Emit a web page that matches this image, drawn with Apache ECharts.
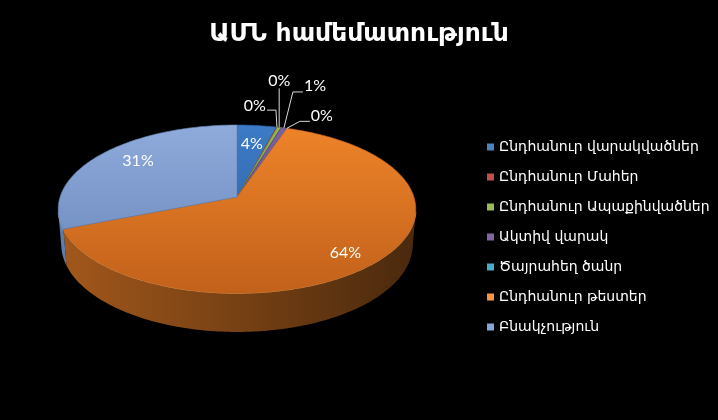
<!DOCTYPE html>
<html><head><meta charset="utf-8">
<script src="https://cdn.jsdelivr.net/npm/echarts@6/dist/echarts.min.js"></script>
<style>html,body{margin:0;padding:0;background:#000}#c{width:718px;height:420px}</style>
</head><body><div id="c"></div>
<script>
// ---- data ----
const titleText = 'ԱՄՆ համեմատություն';
const categories = ['Ընդհանուր վարակվածներ','Ընդհանուր Մահեր','Ընդհանուր Ապաքինվածներ','Ակտիվ վարակ','Ծայրահեղ ծանր','Ընդհանուր թեստեր','Բնակչություն'];
const shares = [4.1, 0.07, 0.4, 0.6, 0.02, 63.8, 31.01];

// ---- styles ----
const palette = ['#4f81bd','#c0504d','#9bbb59','#8064a2','#4bacc6','#f79646','#8aa6d8'];
const topShade = [['#3d7bc6','#2a5d9e'],['#c44e4a','#9b3531'],['#93b84f','#6f9236'],['#7d5fa6','#5c4283'],['#45a9c6','#2f86a0'],['#ee8429','#c2611b'],['#8fabdc','#6784b7']];
const sideShade = [['#2a5a94','#1a3a62'],['#8e3431','#5a1f1d'],['#6f9236','#4a6224'],['#5c4283','#3b2a55'],['#2f86a0','#1e5768'],['#a3581b','#4a290d'],['#5f7cae','#4a6290']];
const edgeGlow = ['rgba(120,170,230,0.5)','rgba(230,120,120,0.5)','rgba(190,220,130,0.5)','rgba(170,140,210,0.5)','rgba(120,210,230,0.5)','rgba(245,165,90,0.75)','rgba(170,195,235,0.6)'];

// ---- 3D view ----
const V = {cx:237, cy:197, f:1097, D:6.2, sp:0.465, cp:0.8853, h:0.228};
const vis0 = Math.acos(-1/(V.D*V.cp)), vis1 = 2*Math.PI - vis0;
function proj(t, r, Y){
  const X = r*Math.sin(t), Z = r*Math.cos(t);
  const yc = Y*V.cp + Z*V.sp, zc = V.D + Z*V.cp - Y*V.sp;
  return [V.cx + V.f*X/zc, V.cy - V.f*yc/zc];
}
function arc(a0, a1, r, Y){
  const n = Math.max(2, Math.ceil((a1-a0)/(Math.PI/180)));
  const pts = [];
  for (let i=0;i<=n;i++) pts.push(proj(a0+(a1-a0)*i/n, r, Y));
  return pts;
}
function angles(params, api){
  const idx = params.dataIndexInside, n = params.dataInsideLength;
  let total = 0, before = 0;
  for (let i=0;i<n;i++){ const v = api.value(0,i); total += v; if (i<idx) before += v; }
  const v = api.value(0, idx);
  return {a0: before/total*2*Math.PI, a1: (before+v)/total*2*Math.PI, frac: v/total, idx};
}
function renderSide(params, api){
  const g = angles(params, api);
  const s = Math.max(g.a0, vis0), e = Math.min(g.a1, vis1);
  if (e <= s) return {type:'group', children:[]};
  const top = arc(s, e, 1, 0), bot = arc(s, e, 1, -V.h).reverse();
  return {type:'group', children:[
    {type:'polygon', shape:{points: top.concat(bot)}, style:{fill:{type:'linear', x:58, y:0, x2:416, y2:0, global:true,
      colorStops:[{offset:0,color:sideShade[g.idx][0]},{offset:1,color:sideShade[g.idx][1]}]}}},
    {type:'polyline', shape:{points: top}, style:{stroke: edgeGlow[g.idx], lineWidth:1.5, fill:null}}
  ]};
}
function renderTop(params, api){
  const g = angles(params, api);
  const pts = [[V.cx, V.cy]].concat(arc(g.a0, g.a1, 1, 0));
  return {type:'polygon', shape:{points: pts}, style:{
    fill:{type:'linear', x:0, y:125, x2:0, y2:293, global:true,
      colorStops:[{offset:0,color:topShade[g.idx][0]},{offset:1,color:topShade[g.idx][1]}]},
    stroke: topShade[g.idx][1], lineWidth: 0.6}};
}
// label layout (positions only)
const insideLayout = {0:{r:0.72, dy:0}, 5:{r:0.78, dy:8}, 6:{r:0.715, dy:-5}};
const outsideLayout = {
  1:{dx:-1, dy:-17, hx:-9, align:'right', ty:-4},
  2:{dx:0, dy:-39, hx:0, align:'center', ty:-8},
  3:{dx:9, dy:-36, hx:10, align:'left', ty:-6},
  4:{dx:13, dy:-7, hx:10, align:'left', ty:-5}
};
const labelFont = {fontSize:16, fontFamily:'Lato, "Open Sans", sans-serif'};
function renderLabel(params, api){
  const g = angles(params, api);
  const txt = Math.round(g.frac*100) + '%';
  const mid = (g.a0 + g.a1)/2;
  if (insideLayout[g.idx]){
    const L = insideLayout[g.idx];
    const p = proj(mid, L.r, 0);
    return {type:'text', x:p[0], y:p[1]+L.dy, style:Object.assign({text:txt, fill:'#fff', align:'center', verticalAlign:'middle'}, labelFont)};
  }
  const L = outsideLayout[g.idx];
  const a = proj(mid, 1, 0);
  const el = [a[0]+L.dx, a[1]+L.dy];
  const en = [el[0]+L.hx, el[1]];
  const tx = L.align==='right' ? en[0]-1 : (L.align==='left' ? en[0]+1 : en[0]);
  return {type:'group', children:[
    {type:'polyline', shape:{points:[a, el, en]}, style:{stroke:'#d9d9d9', lineWidth:1, fill:null}},
    {type:'text', x:tx, y:en[1]+L.ty, style:Object.assign({text:txt, fill:'#fff', align:L.align, verticalAlign:'middle'}, labelFont)}
  ]};
}

const chart = echarts.init(document.getElementById('c'));
chart.setOption({
  backgroundColor:'#000',
  animation:false,
  color: palette,
  title:{text:titleText, left:'center', top:17, textStyle:{color:'#fff', fontSize:25, fontWeight:'bold', fontFamily:'"DejaVu Sans", sans-serif'}},
  legend:{orient:'vertical', left:482, top:134, itemWidth:7, itemHeight:7, itemGap:14, icon:'rect',
    textStyle:{color:'#fff', fontSize:14, lineHeight:16, fontFamily:'"DejaVu Sans", sans-serif'}, data:categories},
  series:[
    {type:'pie', silent:true, center:[-1000,-1000], radius:[0,1], label:{show:false},
      data: categories.map((c,i)=>({name:c, value:shares[i], itemStyle:{color:palette[i]}}))},
    {type:'custom', coordinateSystem:'none', silent:true, z:1, renderItem:renderSide, data:shares},
    {type:'custom', coordinateSystem:'none', silent:true, z:2, renderItem:renderTop, data:shares},
    {type:'custom', coordinateSystem:'none', silent:true, z:3, renderItem:renderLabel, data:shares}
  ]
});
</script></body></html>
